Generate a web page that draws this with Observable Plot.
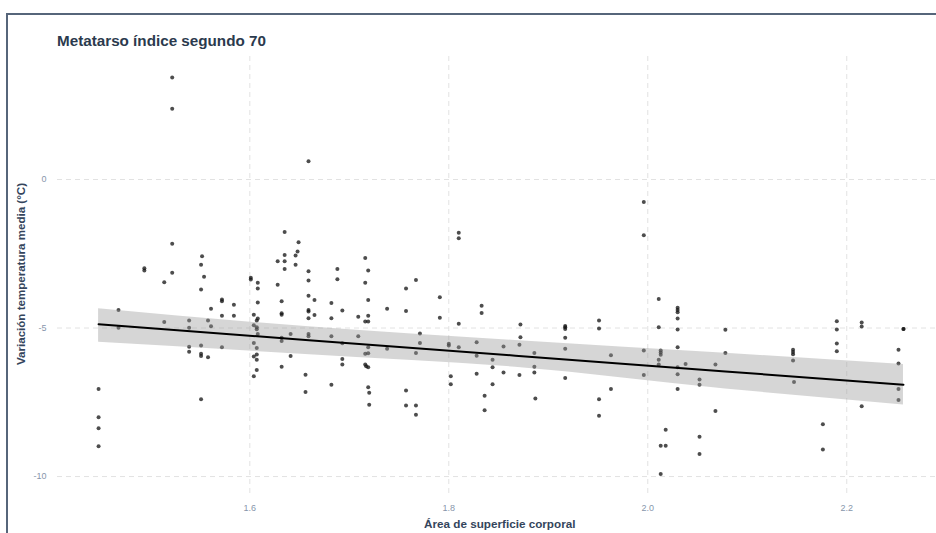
<!DOCTYPE html>
<html><head><meta charset="utf-8">
<script src="https://cdn.jsdelivr.net/npm/d3@7"></script>
<script src="https://cdn.jsdelivr.net/npm/@observablehq/plot@0.6"></script>
<style>
body{margin:0;background:#fff;}
#wrap{position:relative;width:936px;height:533px;overflow:hidden;background:#fff;font-family:"Liberation Sans",Arial,sans-serif;}
#frame{position:absolute;left:6px;top:13px;width:1000px;height:600px;border-top:2px solid #56657a;border-left:2px solid #56657a;}
#chart{position:absolute;left:0;top:0;}
.t{position:absolute;white-space:nowrap;font-weight:bold;transform-origin:0 0;line-height:1;}
</style></head>
<body><div id="wrap"><div id="frame"></div><div id="chart"></div>
<div class="t" id="title" style="color:#2b3a4d"></div>
<div class="t" id="xlab" style="color:#34455c"></div>
<div class="t" id="ylab" style="color:#34455c"></div>
</div>
<script>
const title = "Metatarso índice segundo 70";
const xLabel = "Área de superficie corporal";
const yLabel = "Variación temperatura media (°C)";
const xTicks = [1.6, 1.8, 2.0, 2.2];
const yTicks = [0, -5, -10];

// Área de superficie corporal (m²)
const bsa = [
1.448,1.448,1.448,1.448,1.468,1.468,1.494,1.494,1.514,1.514,
1.522,1.522,1.522,1.522,1.539,1.539,1.539,1.539,1.551,1.552,
1.551,1.551,1.551,1.551,1.551,1.554,1.558,1.558,1.561,1.561,
1.572,1.572,1.572,1.572,1.584,1.584,1.601,1.601,1.604,1.604,
1.604,1.604,1.604,1.608,1.608,1.608,1.608,1.607,1.607,1.607,
1.608,1.607,1.607,1.607,1.607,1.628,1.628,1.632,1.632,1.632,
1.632,1.632,1.632,1.635,1.635,1.635,1.635,1.641,1.641,1.646,
1.646,1.648,1.649,1.656,1.656,1.659,1.659,1.659,1.659,1.659,
1.659,1.659,1.659,1.659,1.665,1.665,1.682,1.682,1.682,1.682,
1.688,1.688,1.693,1.693,1.693,1.693,1.709,1.709,1.716,1.719,
1.716,1.719,1.719,1.716,1.719,1.719,1.716,1.719,1.716,1.717,
1.719,1.719,1.720,1.720,1.738,1.738,1.757,1.757,1.757,1.757,
1.767,1.767,1.767,1.767,1.771,1.771,1.791,1.791,1.800,1.800,
1.802,1.802,1.810,1.810,1.810,1.810,1.828,1.828,1.828,1.833,
1.833,1.836,1.836,1.844,1.844,1.844,1.855,1.855,1.872,1.872,
1.871,1.871,1.886,1.886,1.886,1.887,1.917,1.917,1.917,1.917,
1.917,1.917,1.951,1.951,1.951,1.951,1.963,1.963,1.996,1.996,
1.996,1.996,2.011,2.011,2.011,2.011,2.013,2.013,2.013,2.013,
2.018,2.018,2.013,2.030,2.030,2.030,2.030,2.030,2.030,2.030,
2.030,2.030,2.038,2.052,2.052,2.052,2.052,2.068,2.068,2.078,
2.078,2.146,2.146,2.146,2.146,2.147,2.176,2.176,2.190,2.190,
2.190,2.190,2.215,2.215,2.215,2.257,2.257,2.252,2.252,2.252,
2.252
];

// Variación temperatura media (°C)
const dTemp = [
-7.05,-8.00,-8.37,-8.98,-4.39,-4.99,-2.99,-3.06,-3.46,-4.80,
3.43,2.38,-2.16,-3.14,-4.75,-4.99,-5.63,-5.80,-2.87,-2.58,
-3.70,-5.59,-5.87,-5.94,-7.40,-3.27,-4.75,-5.98,-4.35,-4.94,
-4.04,-4.10,-4.59,-5.65,-4.22,-4.59,-3.31,-3.37,-4.55,-4.91,
-5.50,-5.96,-6.62,-3.48,-3.67,-4.14,-4.68,-4.75,-4.97,-5.04,
-5.20,-5.67,-5.89,-6.07,-6.41,-2.75,-3.54,-4.10,-4.50,-4.55,
-5.33,-5.44,-6.30,-1.77,-2.54,-2.75,-3.01,-5.20,-5.94,-2.56,
-2.87,-2.42,-2.11,-6.57,-7.15,0.61,-3.09,-3.40,-3.91,-4.39,
-4.44,-4.67,-5.20,-5.28,-4.06,-4.56,-4.16,-4.67,-5.28,-6.91,
-3.01,-3.36,-4.41,-5.51,-6.04,-6.23,-4.62,-5.28,-2.64,-3.06,
-3.48,-4.06,-4.59,-4.78,-4.78,-5.65,-5.87,-5.85,-6.23,-6.29,
-6.32,-6.99,-7.18,-7.58,-4.35,-5.70,-3.67,-4.43,-7.10,-7.61,
-3.38,-5.84,-7.61,-7.92,-5.18,-5.50,-3.96,-4.65,-5.53,-5.59,
-6.62,-6.89,-1.79,-1.98,-4.86,-5.65,-5.48,-5.93,-6.54,-4.25,
-4.49,-7.28,-7.77,-6.07,-6.32,-6.89,-5.62,-6.50,-4.88,-5.31,
-5.56,-6.58,-5.84,-6.30,-6.50,-7.37,-4.93,-4.97,-5.03,-5.33,
-5.70,-6.68,-4.75,-5.02,-7.40,-7.95,-5.92,-7.05,-0.76,-1.88,
-5.76,-6.58,-4.02,-4.97,-6.07,-6.23,-5.76,-5.82,-5.90,-8.96,
-8.96,-8.42,-9.91,-4.32,-4.39,-4.47,-4.68,-5.05,-5.65,-6.32,
-6.56,-7.05,-6.21,-6.73,-6.91,-8.66,-9.24,-6.23,-7.79,-5.06,
-5.84,-5.73,-5.81,-5.88,-6.09,-6.82,-8.24,-9.09,-4.77,-5.05,
-5.52,-5.78,-4.81,-4.95,-7.63,-5.03,-5.03,-5.73,-6.19,-7.05,
-7.42
];

// Linear fit and 95% confidence band
const fitX   = [1.448, 1.656, 1.867, 2.078, 2.257];
const fitY   = [-4.87, -5.40, -5.93, -6.46, -6.91];
const bandHi = [-4.35, -4.95, -5.42, -5.85, -6.23];
const bandLo = [-5.48, -5.89, -6.32, -7.05, -7.59];

const data = bsa.map((x, i) => ({x, y: dTemp[i]}));
const fit = fitX.map((x, i) => ({x, y: fitY[i], lo: bandLo[i], hi: bandHi[i]}));

const gridStyle = {stroke: "#e2e2e2", strokeOpacity: 1, strokeWidth: 1, strokeDasharray: "5,4"};
const tickText = {tickSize: 0, fontSize: 9, fill: "#8796ab", label: null};

const chart = Plot.plot({
  width: 936, height: 533,
  marginLeft: 57, marginRight: 0, marginTop: 56, marginBottom: 40,
  style: {fontFamily: "'Liberation Sans', Arial, sans-serif", background: "transparent"},
  x: {domain: [1.4067, 2.2902]},
  y: {domain: [-10.57, 4.14]},
  marks: [
    Plot.gridX(xTicks, gridStyle),
    Plot.gridY(yTicks, gridStyle),
    Plot.axisX(xTicks, {...tickText, tickPadding: 11, tickFormat: d3.format(".1f")}),
    Plot.axisY(yTicks, {...tickText, tickPadding: 11, tickFormat: d => String(d)}),
    Plot.dot(data, {x: "x", y: "y", r: 2, fill: "#111", fillOpacity: 0.75, stroke: null}),
    Plot.areaY(fit, {x: "x", y1: "lo", y2: "hi", fill: "#999", fillOpacity: 0.4, curve: "monotone-x"}),
    Plot.line(fit, {x: "x", y: "y", stroke: "#000", strokeWidth: 2})
  ]
});
document.getElementById("chart").appendChild(chart);

function place(id, text, fs, targetW, left, top, rotate) {
  const el = document.getElementById(id);
  el.textContent = text;
  el.style.fontSize = fs + "px";
  const w = el.offsetWidth;
  const k = targetW / w;
  el.style.left = left + "px";
  el.style.top = top + "px";
  el.style.transform = (rotate ? "rotate(-90deg) " : "") + "scaleX(" + k + ")";
}
place("title", title, 15, 209, 57, 32.8, false);
place("xlab", xLabel, 11, 151, 424, 518.7, false);
place("ylab", yLabel, 11.5, 182, 15.5, 365, true);
</script>
</body></html>
